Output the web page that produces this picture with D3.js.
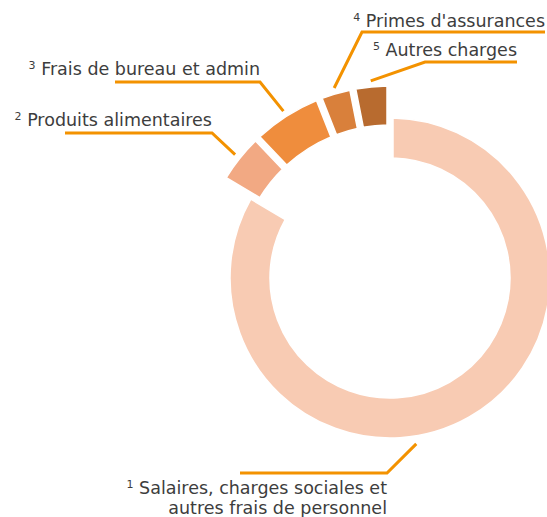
<!DOCTYPE html>
<html>
<head>
<meta charset="utf-8">
<script src="https://cdn.jsdelivr.net/npm/d3@7"></script>
<style>
  body { margin: 0; background: #fff; }
  svg { display: block; }
  .lbl { font-family: "DejaVu Sans", sans-serif; font-size: 17.5px; fill: #3d3d3d; }
</style>
</head>
<body>
<svg id="chart" width="547" height="517"></svg>
<script>
// data
const numbers = ["1", "2", "3", "4", "5"];
const labelLines = [
  ["Salaires, charges sociales et", "autres frais de personnel"],
  ["Produits alimentaires"],
  ["Frais de bureau et admin"],
  ["Primes d'assurances"],
  ["Autres charges"]
];
const values = [83.5, 4.4, 6.1, 2.9, 3.1];
const colors = ["#f8cbb3", "#f2a983", "#ef8d3d", "#d9803b", "#b86b2f"];

// layout
const cx = 390, cy = 278;
const mainRing = {inner: 120, outer: 160};
const outRing = {inner: 153, outer: 192};
const pulledOut = [false, true, true, true, true];
// text end x, first baseline, underline y, underline x range, elbow x
const labelPos = [
  {tx: 387, ty: 494, ly: 473, x0: 240, x1: 387, ex: 387, angle: 171, r: 168},
  {tx: 212, ty: 126, ly: 133, x0: 65,  x1: 212, ex: 212},
  {tx: 260, ty: 75,  ly: 82,  x0: 115, x1: 260, ex: 260},
  {tx: 545, ty: 27,  ly: 32,  x0: 362, x1: 545, ex: 362},
  {tx: 517, ty: 56,  ly: 62,  x0: 425, x1: 517, ex: 425}
];

const svg = d3.select("#chart");
const g = svg.append("g").attr("transform", "translate(" + cx + "," + cy + ")");

// pie without padding so angles stay proportional; gaps come from the arc
const pie = d3.pie().sort(null).value(d => d);
const arcMain = d3.arc().innerRadius(mainRing.inner).outerRadius(mainRing.outer)
  .padAngle(0.05).padRadius(120);
const arcOut = d3.arc().innerRadius(outRing.inner).outerRadius(outRing.outer)
  .padAngle(0.05).padRadius(120);
const arcs = pie(values);

function mid(d) { return (d.startAngle + d.endAngle) / 2; }

g.selectAll("path.slice")
  .data(arcs)
  .enter().append("path")
  .attr("class", "slice")
  .attr("d", (d, i) => pulledOut[i] ? arcOut(d) : arcMain(d))
  .attr("fill", (d, i) => colors[i])
  .attr("stroke", "#fff")
  .attr("stroke-width", 1.5);

// leader lines and labels
arcs.forEach((d, i) => {
  const p = labelPos[i];
  let a, r;
  if (pulledOut[i]) { a = mid(d); r = outRing.outer + 6; }
  else { a = p.angle * Math.PI / 180; r = p.r; }
  const ax = cx + r * Math.sin(a), ay = cy - r * Math.cos(a);
  const other = p.ex === p.x1 ? p.x0 : p.x1;
  svg.append("path")
    .attr("d", d3.line()([[ax, ay], [p.ex, p.ly], [other, p.ly]]))
    .attr("fill", "none")
    .attr("stroke", "#f39200")
    .attr("stroke-width", 3);

  const t = svg.append("text")
    .attr("class", "lbl")
    .attr("text-anchor", "end");
  labelLines[i].forEach((line, k) => {
    const ts = t.append("tspan").attr("x", p.tx).attr("y", p.ty + k * 20);
    if (k === 0) {
      ts.append("tspan").attr("font-size", 11).attr("dy", -6).text(numbers[i]);
      ts.append("tspan").attr("dy", 6).text("\u00a0" + line);
    } else {
      ts.text(line);
    }
  });
});
</script>
</body>
</html>
